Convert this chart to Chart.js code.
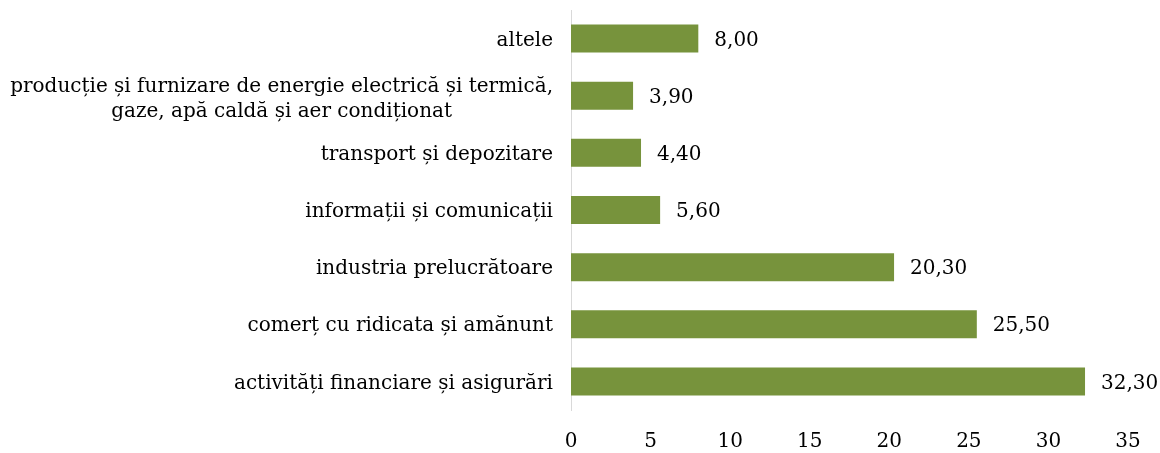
<!DOCTYPE html>
<html>
<head>
<meta charset="utf-8">
<script src="https://cdn.jsdelivr.net/npm/chart.js@4"></script>
<style>
    html, body { margin: 0; padding: 0; background: #ffffff; }
    #wrap { width: 1160px; height: 453px; }
</style>
</head>
<body>
<div id="wrap"><canvas id="chart" width="1160" height="453"></canvas></div>
<script>
// ── Data ─────────────────────────────────────────────────────────────────────

const categories = [
    "altele",
    ["producție și furnizare de energie electrică și termică,", "gaze, apă caldă și aer condiționat"],
    "transport și depozitare",
    "informații și comunicații",
    "industria prelucrătoare",
    "comerț cu ridicata și amănunt",
    "activități financiare și asigurări",
];
const values = [8.00, 3.90, 4.40, 5.60, 20.30, 25.50, 32.30];
const xTicks = [0, 5, 10, 15, 20, 25, 30, 35];

const FONT = "'DejaVu Serif', serif";
const FONT_SIZE = 20;
const BAR_COLOR = "#77933C";

// ── Value labels to the right of each bar ─────────────────────────────────────

const valueLabels = {
    id: "valueLabels",
    afterDatasetsDraw(chart) {
        const ctx = chart.ctx;
        const meta = chart.getDatasetMeta(0);
        ctx.save();
        ctx.font = FONT_SIZE + "px " + FONT;
        ctx.fillStyle = "#000000";
        ctx.textAlign = "left";
        ctx.textBaseline = "middle";
        meta.data.forEach((bar, i) => {
            const txt = values[i].toFixed(2).replace(".", ",");
            ctx.fillText(txt, bar.x + 16, bar.y + 2);
        });
        ctx.restore();
    },
};

// ── Category labels: right-aligned block, multi-line text centred inside ─────

const categoryLabels = {
    id: "categoryLabels",
    afterDraw(chart) {
        const ctx = chart.ctx;
        const yScale = chart.scales.y;
        const right = yScale.right - 18;
        const lineH = 25;
        ctx.save();
        ctx.font = FONT_SIZE + "px " + FONT;
        ctx.fillStyle = "#000000";
        ctx.textBaseline = "middle";
        ctx.textAlign = "center";
        categories.forEach((label, i) => {
            const lines = Array.isArray(label) ? label : [label];
            const y = yScale.getPixelForValue(i) + 2;
            const maxW = Math.max(...lines.map(l => ctx.measureText(l).width));
            const cx = right - maxW / 2;
            lines.forEach((line, j) => {
                // multi-line labels sit a touch lower than the bar centre
                const shift = lines.length > 1 ? 2 : 0;
                const ly = y + shift + (j - (lines.length - 1) / 2) * lineH;
                ctx.fillText(line, cx, ly);
            });
        });
        ctx.restore();
    },
};

// ── Chart ─────────────────────────────────────────────────────────────────────

new Chart(document.getElementById("chart"), {
    type: "bar",
    data: {
        labels: categories,
        datasets: [{
            data: values,
            backgroundColor: BAR_COLOR,
            borderWidth: 0,
            barPercentage: 0.49,
            categoryPercentage: 1,
        }],
    },
    options: {
        indexAxis: "y",
        responsive: false,
        animation: false,
        layout: { padding: { top: 10, right: 32, left: 0, bottom: 0 } },
        plugins: {
            legend: { display: false },
            tooltip: { enabled: false },
        },
        scales: {
            x: {
                min: 0,
                max: 35,
                afterBuildTicks: axis => { axis.ticks = xTicks.map(v => ({ value: v })); },
                afterFit: axis => { axis.height = 43; },
                grid: { display: false },
                border: { display: false },
                ticks: {
                    font: { family: FONT, size: FONT_SIZE },
                    color: "#000000",
                    padding: 12,
                },
            },
            y: {
                afterFit: axis => { axis.width = 571; },
                grid: { display: false, drawTicks: false },
                border: { display: true, color: "#d9d9d9", width: 1 },
                ticks: { display: false },
            },
        },
    },
    plugins: [valueLabels, categoryLabels],
});
</script>
</body>
</html>
